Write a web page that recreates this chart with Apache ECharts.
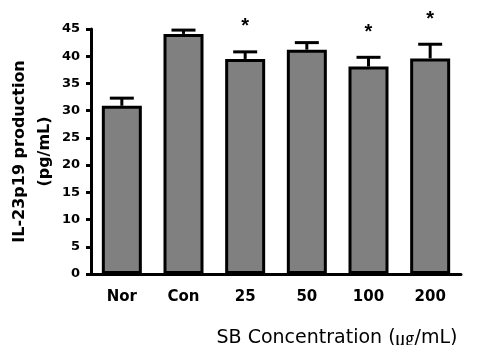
<!doctype html>
<html lang="en">
<head>
    <meta charset="UTF-8">
    <title>IL-23p19 production</title>
    <script src="https://cdn.jsdelivr.net/npm/echarts@6/dist/echarts.min.js"></script>
    <style>
        html, body { margin: 0; padding: 0; background: #fff; }
        #main { width: 502px; height: 345px; }
    </style>
</head>
<body>
<div id="main"></div>
<script>
    // data
    var groups = ['Nor', 'Con', '25', '50', '100', '200'];
    var means = [30.9, 44.1, 39.5, 41.2, 38.1, 39.6];
    var errors = [1.4, 0.7, 1.3, 1.3, 1.7, 2.6];
    var marks = ['', '', '*', '', '*', '*'];
    var yTicks = [0, 5, 10, 15, 20, 25, 30, 35, 40, 45];

    var font = '"DejaVu Sans", sans-serif';

    var errData = [];
    for (var i = 0; i < groups.length; i++) {
        errData.push([i, means[i], means[i] + errors[i], marks[i]]);
    }

    var myChart = echarts.init(document.getElementById('main'));
    var option = {
        animation: false,
        grid: { left: 91, right: 41, top: 29, bottom: 71, outerBoundsMode: 'none', containLabel: false },
        xAxis: {
            type: 'category',
            data: groups,
            name: 'SB Concentration ({u|\u338D}/mL)',
            nameLocation: 'middle',
            nameGap: 55,
            nameMoveOverlap: false,
            nameTextStyle: {
                fontFamily: font, fontSize: 19, color: '#000',
                padding: [0, 0, 0, 122],
                rich: {
                    u: { fontFamily: '"Noto Sans CJK KR", sans-serif', fontSize: 19, color: '#000' }
                }
            },
            axisLine: { lineStyle: { color: '#000', width: 3 } },
            axisTick: { alignWithLabel: true, length: 5, lineStyle: { color: '#000', width: 3 } },
            axisLabel: { fontFamily: font, fontSize: 15, fontWeight: 'bold', color: '#000', margin: 16 }
        },
        yAxis: {
            type: 'value',
            min: yTicks[0],
            max: yTicks[yTicks.length - 1],
            interval: 5,
            name: 'IL-23p19 production\n(pg/mL)',
            nameLocation: 'middle',
            nameRotate: 90,
            nameGap: 34,
            nameMoveOverlap: false,
            nameTextStyle: {
                fontFamily: font, fontSize: 16, fontWeight: 'bold', color: '#000',
                lineHeight: 25
            },
            splitLine: { show: false },
            axisLine: { show: true, lineStyle: { color: '#000', width: 3 } },
            axisTick: { show: true, length: 5, lineStyle: { color: '#000', width: 3 } },
            axisLabel: { fontFamily: font, fontSize: 13, fontWeight: 'bold', color: '#000', margin: 11 }
        },
        series: [
            {
                type: 'bar',
                data: means,
                barWidth: 40,
                itemStyle: { color: '#808080', borderColor: '#000', borderWidth: 3 }
            },
            {
                type: 'custom',
                data: errData,
                z: 3,
                renderItem: function (params, api) {
                    var low = api.coord([api.value(0), api.value(1)]);
                    var high = api.coord([api.value(0), api.value(2)]);
                    var half = 12;
                    var children = [
                        { type: 'line', shape: { x1: low[0], y1: low[1], x2: high[0], y2: high[1] },
                          style: { stroke: '#000', lineWidth: 3 } },
                        { type: 'line', shape: { x1: high[0] - half, y1: high[1], x2: high[0] + half, y2: high[1] },
                          style: { stroke: '#000', lineWidth: 3 } }
                    ];
                    var star = api.value(3);
                    if (star) {
                        children.push({
                            type: 'text',
                            style: {
                                text: star, x: high[0], y: high[1] - 25,
                                align: 'center', verticalAlign: 'middle',
                                font: 'bold 20px "Liberation Sans", Arial, sans-serif', fill: '#000'
                            }
                        });
                    }
                    return { type: 'group', children: children };
                }
            }
        ]
    };
    myChart.setOption(option);
</script>
</body>
</html>
